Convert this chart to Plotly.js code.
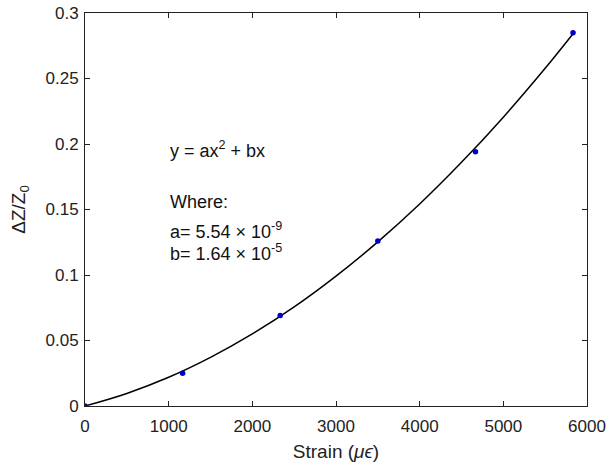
<!DOCTYPE html>
<html>
<head>
<meta charset="utf-8">
<script src="https://cdn.plot.ly/plotly-3.0.1.min.js"></script>
<style>html,body{margin:0;padding:0;background:#fff;}#chart{width:610px;height:466px;}</style>
</head>
<body>
<div id="chart"></div>
<script>
// Measured data points
const strain = [0, 1167, 2333, 3500, 4667, 5833];
const dZ = [0, 0.025, 0.069, 0.126, 0.194, 0.285];

// Fitted curve (y = a x^2 + b x) sampled values
const fitX = [0, 500, 1000, 1500, 2000, 2500, 3000, 3500, 4000, 4500, 5000, 5500, 5833];
const fitY = [0, 0.0096, 0.0219, 0.0371, 0.0550, 0.0756, 0.0991, 0.1253, 0.1542, 0.1860, 0.2205, 0.2578, 0.2842];

const xTicks = [0, 1000, 2000, 3000, 4000, 5000, 6000];
const yTicks = [0, 0.05, 0.1, 0.15, 0.2, 0.25, 0.3];
const yTickText = ['0', '0.05', '0.1', '0.15', '0.2', '0.25', '0.3'];

const noteLines = [
  'y = ax<sup>2</sup> + bx',
  'Where:',
  'a= 5.54 \u00d7 10<sup>-9</sup>',
  'b= 1.64 \u00d7 10<sup>-5</sup>'
];
const noteY = [0.1955, 0.1555, 0.134, 0.1170];

const font = 'Liberation Sans, Arial, Helvetica, sans-serif';

const traces = [
  {x: fitX, y: fitY, mode: 'lines', line: {color: '#000', width: 1.5, shape: 'spline'}, hoverinfo: 'skip'},
  {x: strain, y: dZ, mode: 'markers', marker: {color: '#0000cc', size: 5.5}}
];

const axisCommon = {
  showgrid: false, zeroline: false, showline: true, mirror: 'ticks',
  linecolor: '#222', linewidth: 1, ticks: 'inside', ticklen: 5, tickcolor: '#222', tickwidth: 1,
  tickfont: {family: font, size: 17, color: '#222'}
};

const layout = {
  width: 610, height: 466,
  margin: {l: 85, r: 23, t: 13, b: 60},
  paper_bgcolor: '#fff', plot_bgcolor: '#fff',
  showlegend: false,
  xaxis: Object.assign({}, axisCommon, {
    range: [0, 6000], tickvals: xTicks, ticktext: xTicks.map(String),
    ticklabelstandoff: 5,
    title: {text: 'Strain (<i>\u03bc\u03f5</i>)', font: {family: font, size: 19, color: '#222'}, standoff: 9}
  }),
  yaxis: Object.assign({}, axisCommon, {
    range: [0, 0.3], tickvals: yTicks, ticktext: yTickText,
    ticklabelstandoff: 2,
    title: {text: '\u0394Z/Z<sub>0</sub>', font: {family: font, size: 19, color: '#222'}, standoff: 14}
  }),
  annotations: noteLines.map((t, i) => ({
    x: 987, y: noteY[i], xref: 'x', yref: 'y', text: t, showarrow: false,
    xanchor: 'left', yanchor: 'middle', font: {family: font, size: 18, color: '#111'}
  }))
};

Plotly.newPlot('chart', traces, layout, {displayModeBar: false, staticPlot: true});
</script>
</body>
</html>
